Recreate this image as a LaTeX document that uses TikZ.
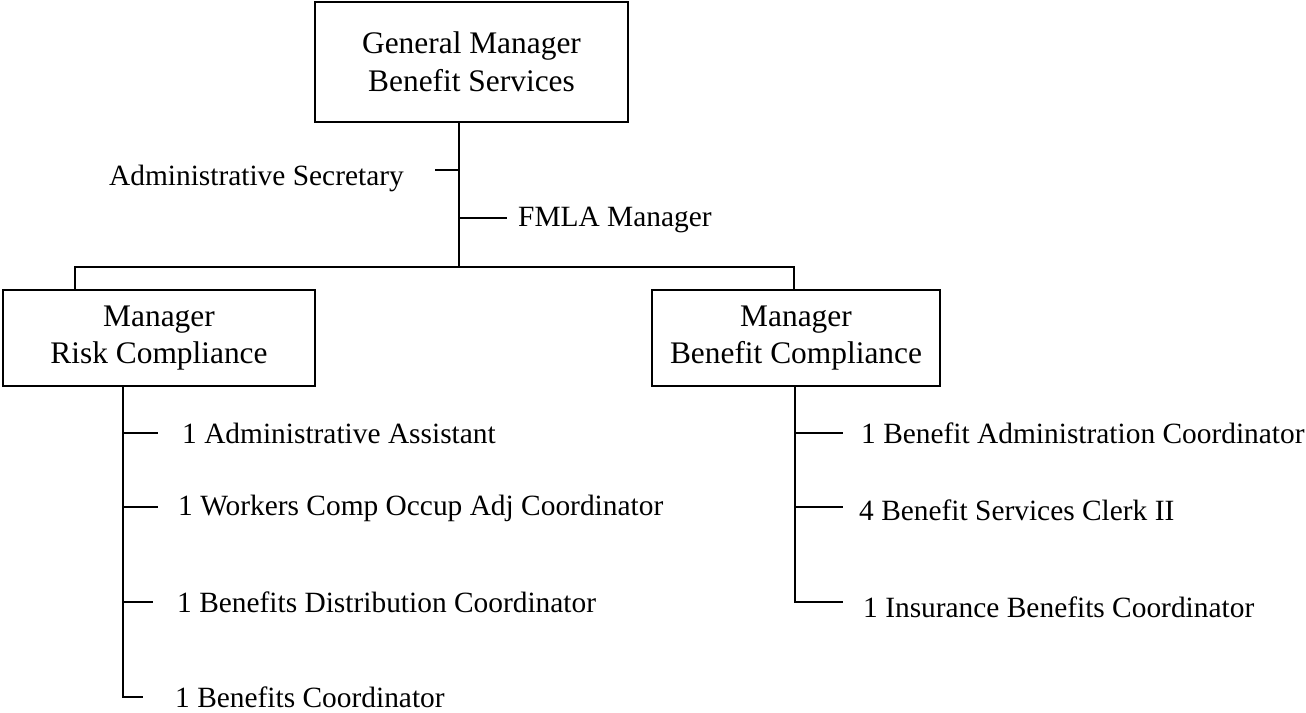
\documentclass[tikz,border=0pt]{standalone}
\usepackage{fontspec}
\setmainfont{Liberation Serif}
\usetikzlibrary{positioning,calc}
\tikzset{
  post/.style  = {rectangle, draw=black, line width=1.8pt, align=center,
                  inner sep=0pt, font=\fontsize{31.4}{37.5}\selectfont},
  staff/.style = {inner sep=0pt, font=\fontsize{29.4}{37.5}\selectfont},
  link/.style  = {line width=1.8pt, draw=black}
}
\begin{document}
\begin{tikzpicture}[x=1pt, y=-1pt]
\useasboundingbox (0,0) rectangle (1306,712);
% Top box
\node[post, minimum width=313pt, minimum height=120pt] (gm) at (471.5,62)
     {General Manager\\Benefit Services};
\coordinate (bar) at (459,267);
\draw[link] (gm.south -| bar) -- (bar);
% Staff of the general manager
\coordinate (secT) at (435,170);
\node[staff, anchor=base east] (sec) at (404,185) {Administrative Secretary};
\draw[link] (secT) -- (secT -| bar);
\coordinate (fmlaT) at (507,218);
\node[staff, anchor=base west] (fmla) at (518,226) {FMLA Manager};
\draw[link] (fmlaT -| bar) -- (fmlaT);
% Managers
\node[post, minimum width=312pt, minimum height=96pt] (rc) at (159,338)
     {Manager\\Risk Compliance};
\node[post, minimum width=288pt, minimum height=96pt] (bc) at (796,338)
     {Manager\\Benefit Compliance};
\coordinate (barL) at (75,267);
\coordinate (barR) at (794,267);
\draw[link] (rc.north -| barL) -- (barL) -- (barR) -- (bc.north -| barR);
% Risk compliance staff
\coordinate (rcS) at (123,0);
\foreach \i/\y/\tx/\bx/\by/\txt in {
    1/433/158/182/443/1 Administrative Assistant,
    2/507/158/178/515/1 Workers Comp Occup Adj Coordinator,
    3/602/153/177/612/1 Benefits Distribution Coordinator,
    4/697/143/175/707/1 Benefits Coordinator}{
  \node[staff, anchor=base west] (rc\i) at (\bx,\by) {\txt};
  \coordinate (rcT\i) at (\tx,\y);
  \draw[link] (rcT\i -| rcS) -- (rcT\i);
}
\draw[link] (rc.south -| rcS) |- (rcT4);
% Benefit compliance staff
\coordinate (bcS) at (795,0);
\foreach \i/\y/\tx/\bx/\by/\txt in {
    1/433/843/861/443/1 Benefit Administration Coordinator,
    2/507/843/859/520/4 Benefit Services Clerk II,
    3/602/843/863/617/1 Insurance Benefits Coordinator}{
  \node[staff, anchor=base west] (bc\i) at (\bx,\by) {\txt};
  \coordinate (bcT\i) at (\tx,\y);
  \draw[link] (bcT\i -| bcS) -- (bcT\i);
}
\draw[link] (bc.south -| bcS) |- (bcT3);
\end{tikzpicture}
\end{document}
